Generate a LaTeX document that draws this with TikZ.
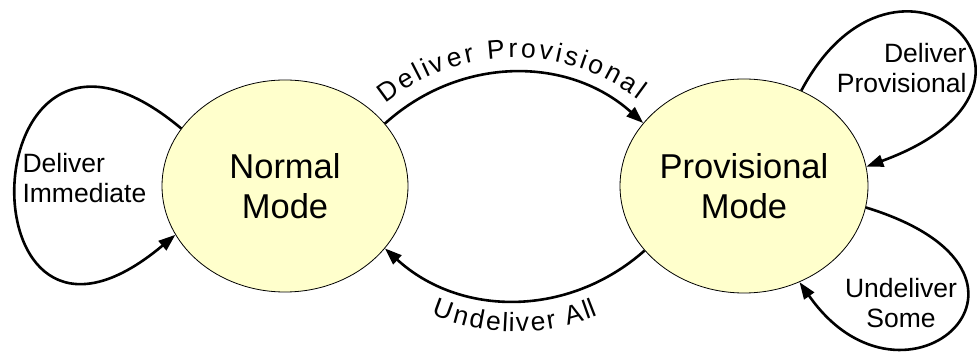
\documentclass[tikz,border=0pt]{standalone}
\usepackage{fontspec}
\setmainfont{Liberation Sans}
\usetikzlibrary{arrows.meta,shapes.geometric,decorations.text}
\definecolor{modefill}{HTML}{FFFFCC}

\begin{document}
\begin{tikzpicture}[x=1pt,y=1pt,
  mode/.style={ellipse,draw,fill=modefill,line width=0.8pt,inner sep=0pt,
    minimum width=246pt,minimum height=212pt,align=center,
    font=\fontsize{34.5}{40}\selectfont},
  trans/.style={-{Triangle[length=17pt,width=12pt]},line width=2.6pt},
  lbl/.style={font=\fontsize{26.5}{30}\selectfont}]
  \useasboundingbox (0,0) rectangle (980,356);

  \node[mode] (normal) at (285,170) {Normal\\Mode};
  \node[mode,minimum width=248pt,minimum height=214pt] (provisional) at (744,170) {Provisional\\Mode};

  % between the two modes
  \draw[trans,postaction={decorate,decoration={text along path,raise=15pt,
      text align={left indent=12pt,right indent=18pt,fit to path},
      text={|\fontsize{26.5}{30}\selectfont|Deliver Provisional}}}]
    (normal.32) to[bend left=42] (provisional.148);
  \draw[trans,postaction={decorate,decoration={text along path,reverse path,raise=-31pt,
      text align=center,
      text={|\fontsize{26.5}{30}\selectfont|Undeliver All}}}]
    (provisional.213) to[bend left=42] (normal.328);

  % self loops
  \draw[trans] (normal.151) .. controls +(140:280) and +(220:285) .. (normal.204);
  \node[lbl,align=left,anchor=west] (immlbl) at (19,178) {Deliver\\Immediate};

  \draw[trans] (provisional.59) .. controls +(62:205) and +(20:240) .. (provisional.9);
  \node[lbl,align=right,anchor=east] (provlbl) at (970,288) {Deliver\\Provisional};

  \draw[trans] (provisional.350) .. controls +(-17:225) and +(305:185) .. (provisional.300);
  \node[lbl,align=center] (somelbl) at (901,53) {Undeliver\\Some};
\end{tikzpicture}
\end{document}
